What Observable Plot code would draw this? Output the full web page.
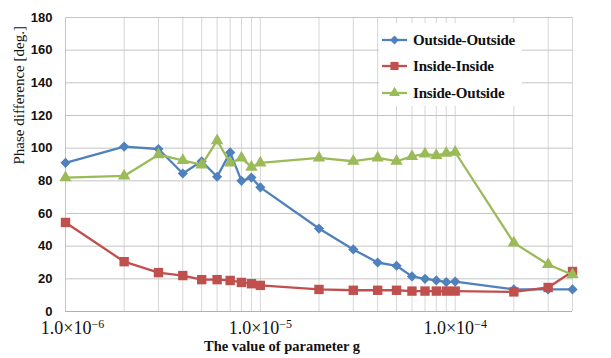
<!DOCTYPE html>
<html>
<head>
<meta charset="utf-8">
<script src="https://cdn.jsdelivr.net/npm/d3@7"></script>
<script src="https://cdn.jsdelivr.net/npm/@observablehq/plot@0.6"></script>
<style>
  html, body { margin: 0; padding: 0; background: #fff; }
  #wrap { position: relative; width: 611px; height: 358px; }
  #legend { position: absolute; left: 379px; top: 23px; width: 143px; height: 83px; background: #fff; }
  .row { position: absolute; left: 0; height: 20px; display: flex; align-items: center; }
  .row svg { display: block; }
  .row span { font-family: "Liberation Serif", serif; font-weight: bold; font-size: 15px; color: #111; margin-left: 3px; letter-spacing: -0.2px; }
</style>
</head>
<body>
<div id="wrap"><div id="legend"></div></div>
<script>
// ---- data ----
const gValues = [1e-6,2e-6,3e-6,4e-6,5e-6,6e-6,7e-6,8e-6,9e-6,1e-5,2e-5,3e-5,4e-5,5e-5,6e-5,7e-5,8e-5,9e-5,1e-4,2e-4,3e-4,4e-4];
const outsideOutside = [91,101,99.5,84.5,92,82.5,97.4,80,82,76,50.8,38,30,28,21.5,20,19,18,18.3,13.5,13.5,13.5];
const insideInside   = [54.5,30.5,23.8,22,19.5,19.5,19,17.8,17,16,13.5,13,13,13,12.5,12.5,12.5,12.5,12.5,12,14.7,24.5];
const insideOutside  = [82,83,96,92.5,89.8,104.6,90.9,94,88.4,91,94,92,94,92,95,96.5,95.5,97,97.5,42,28.8,22.5];
const seriesNames = ["Outside-Outside","Inside-Inside","Inside-Outside"];
const xTickValues = [1e-6,1e-5,1e-4,4e-4];
const xTickLabels = ["1.0×10^−6","1.0×10^−5","1.0×10^−4","4.0×10^−4"];
const xGridValues = [1e-6,2e-6,3e-6,4e-6,5e-6,6e-6,7e-6,8e-6,9e-6,1e-5,2e-5,3e-5,4e-5,5e-5,6e-5,7e-5,8e-5,9e-5,1e-4,2e-4,3e-4,4e-4];
const yTickValues = [0,20,40,60,80,100,120,140,160,180];
const xTitle = "The value of parameter g";
const yTitle = "Phase difference [deg.]";

const colors = ["#4F81BD","#C0504D","#9BBB59"];
const symbols = ["diamond2","square","triangle"];
const radii = [4.6,5.3,4.6];
const allSeries = [outsideOutside, insideInside, insideOutside];

const seriesMarks = [];
allSeries.forEach((vals, s) => {
  const rows = gValues.map((g, i) => ({g, v: vals[i]}));
  seriesMarks.push(Plot.line(rows, {x: "g", y: "v", stroke: colors[s], strokeWidth: 2.3}));
  seriesMarks.push(Plot.dot(rows, {x: "g", y: "v", symbol: () => symbols[s], fill: colors[s], stroke: "none", r: radii[s]}));
});

const chart = Plot.plot({
  width: 611, height: 358,
  marginLeft: 65, marginRight: 39, marginTop: 17, marginBottom: 47,
  style: {background: "#fff", overflow: "visible"},
  x: {type: "log", domain: [1e-6, 4e-4]},
  y: {domain: [0, 180]},
  symbol: {type: "identity"},
  marks: [
    Plot.gridX(xGridValues, {stroke: "#d6d6d6", strokeOpacity: 1, strokeWidth: 1}),
    Plot.gridY(yTickValues, {stroke: "#c4c4c4", strokeOpacity: 1, strokeWidth: 1}),
    Plot.ruleY([0], {stroke: "#b0b0b0"}),
    Plot.ruleX([1e-6], {stroke: "#c4c4c4"}),
    Plot.axisY(yTickValues, {tickSize: 0, tickPadding: 13, label: null, fontFamily: "Liberation Sans, Arial, sans-serif", fontWeight: "bold", fontSize: 13, fill: "#111"}),
    Plot.axisX(xTickValues, {tickSize: 0, tickPadding: 10, label: null, tickFormat: (d) => xTickLabels[xTickValues.indexOf(d)], fontFamily: "Liberation Serif, serif", fontSize: 18, fill: "#111"}),
    ...seriesMarks,
    Plot.text([xTitle], {text: d => d, frameAnchor: "bottom", dx: -37, dy: 39, fontFamily: "Liberation Serif, serif", fontWeight: "bold", fontSize: 14.5, fill: "#111"}),
    Plot.text([yTitle], {text: d => d, frameAnchor: "left", rotate: -90, dx: -46, fontFamily: "Liberation Serif, serif", fontSize: 15, fill: "#111"})
  ]
});
document.getElementById("wrap").prepend(chart);

// superscripts on x tick labels
const svgns = "http://www.w3.org/2000/svg";
const labelShift = [7, 0, 0, -9];
chart.querySelectorAll('[aria-label="x-axis tick label"] text').forEach((t, i) => {
  const [base, exp] = t.textContent.split("^");
  t.textContent = base;
  const ts = document.createElementNS(svgns, "tspan");
  ts.setAttribute("dy", "-0.55em");
  ts.setAttribute("font-size", "12px");
  ts.textContent = exp;
  t.appendChild(ts);
  t.setAttribute("dx", labelShift[i] || 0);
});

// legend
const legend = document.getElementById("legend");
const rowTops = [7, 33, 60];
seriesNames.forEach((name, s) => {
  const row = document.createElement("div");
  row.className = "row";
  row.style.top = rowTops[s] + "px";
  const sw = d3.create("svg").attr("width", 31).attr("height", 20);
  sw.append("line").attr("x1", 3).attr("x2", 28).attr("y1", 10).attr("y2", 10).attr("stroke", colors[s]).attr("stroke-width", 2.3);
  const symMap = {diamond2: d3.symbolDiamond2, square: d3.symbolSquare, triangle: d3.symbolTriangle};
  sw.append("path").attr("transform", "translate(15.5,10)")
    .attr("d", d3.symbol(symMap[symbols[s]], Math.PI * radii[s] * radii[s] * 0.75)())
    .attr("fill", colors[s]);
  row.appendChild(sw.node());
  const sp = document.createElement("span");
  sp.textContent = name;
  row.appendChild(sp);
  legend.appendChild(row);
});
</script>
</body>
</html>
